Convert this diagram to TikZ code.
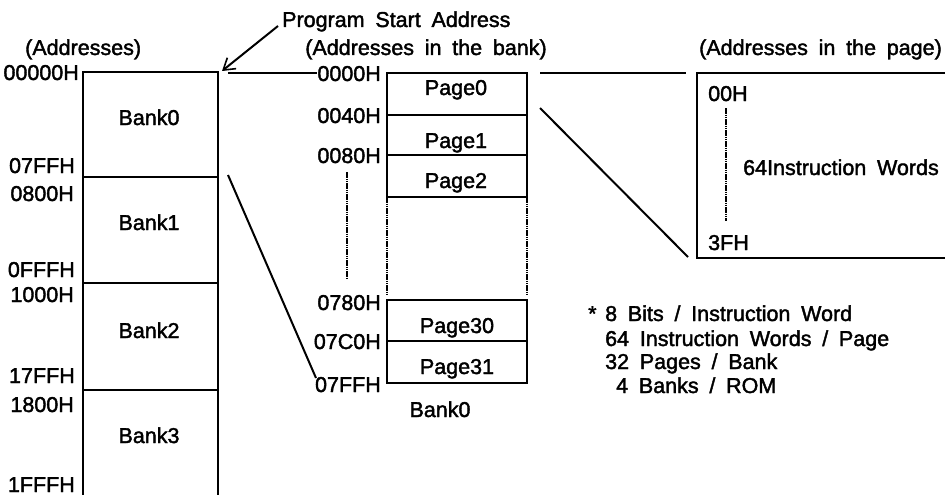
\documentclass[tikz,border=0pt]{standalone}
\usepackage{fontspec}
\setmainfont{Liberation Sans}
\newfontfamily\scanfont{Liberation Sans}[FakeBold=1.8]
\newcommand\scanstyle{\scanfont\fontsize{21.5}{26}\selectfont\spaceskip=0.5em\relax}
\usetikzlibrary{arrows.meta}
\begin{document}
\begin{tikzpicture}[x=1pt,y=-1pt,
  lbl/.style={inner sep=0pt, font=\scanstyle},
  lblE/.style={lbl, anchor=base east},
  lblW/.style={lbl, anchor=base west},
  lblC/.style={lbl, anchor=base},
  boxline/.style={line width=2pt},
  faint/.style={line width=1.5pt, dash pattern=on 1.6pt off 0.6pt},
  conn/.style={line width=2pt}]
\useasboundingbox (0,0) rectangle (945,495);

% ---------- left: whole ROM ----------
\coordinate (L0) at (83,72);  \coordinate (R0) at (218,72);
\coordinate (L1) at (83,177); \coordinate (R1) at (218,177);
\coordinate (L2) at (83,283); \coordinate (R2) at (218,283);
\coordinate (L3) at (83,390); \coordinate (R3) at (218,390);
\coordinate (L4) at (83,495); \coordinate (R4) at (218,495);
\draw[boxline] (L4) -- (L0) -- (R0) -- (R4);
\draw[boxline] (L1) -- (R1);
\draw[boxline] (L2) -- (R2);
\draw[boxline] (L3) -- (R3);

\node[lblW] (addr) at (25,55) {(Addresses)};
\node[lblE] (a00000) at (79,80) {00000H};
\node[lblE] (a07ff) at (75,173) {07FFH};
\node[lblE] (a0800) at (74,201) {0800H};
\node[lblE] (a0fff) at (75,277) {0FFFH};
\node[lblE] (a1000) at (74,302) {1000H};
\node[lblE] (a17ff) at (75,383) {17FFH};
\node[lblE] (a1800) at (74,412) {1800H};
\node[lblE] (a1fff) at (75,492) {1FFFH};
\node[lblC] (bank0) at (149,125) {Bank0};
\node[lblC] (bank1) at (149,230) {Bank1};
\node[lblC] (bank2) at (149,338) {Bank2};
\node[lblC] (bank3) at (149,443) {Bank3};

% ---------- middle: one bank ----------
\coordinate (m0l) at (387,73);  \coordinate (m0r) at (527,73);
\coordinate (m1l) at (387,115); \coordinate (m1r) at (527,115);
\coordinate (m2l) at (387,155); \coordinate (m2r) at (527,155);
\coordinate (m3l) at (387,197); \coordinate (m3r) at (527,197);
\coordinate (m4l) at (387,295); \coordinate (m4r) at (527,295);
\coordinate (n0l) at (387,300); \coordinate (n0r) at (527,300);
\coordinate (n1l) at (387,341); \coordinate (n1r) at (527,341);
\coordinate (n2l) at (387,383); \coordinate (n2r) at (527,383);
\draw[boxline] (m3l) -- (m0l) -- (m0r) -- (m3r);
\draw[boxline] (m1l) -- (m1r);
\draw[boxline] (m2l) -- (m2r);
\draw[boxline] (m3l) -- (m3r);
\draw[faint] (m3l) -- (m4l);
\draw[faint] (m3r) -- (m4r);
\draw[boxline] (n0l) rectangle (n2r);
\draw[boxline] (n1l) -- (n1r);
\coordinate (vd0) at (347,172); \coordinate (vd1) at (347,278);
\draw[faint] (vd0) -- (vd1);

\node[lblW] (psa) at (282,27) {Program Start Address};
\node[lblC] (addrbank) at (426,55) {(Addresses in the bank)};
\node[lblE] (b0000) at (381,81) {0000H};
\node[lblE] (b0040) at (381,123) {0040H};
\node[lblE] (b0080) at (381,163) {0080H};
\node[lblE] (b0780) at (381,310) {0780H};
\node[lblE] (b07c0) at (381,349) {07C0H};
\node[lblE] (b07ff) at (381,392) {07FFH};
\node[lblC] (page0) at (456,95) {Page0};
\node[lblC] (page1) at (456,148) {Page1};
\node[lblC] (page2) at (456,188) {Page2};
\node[lblC] (page30) at (457,333) {Page30};
\node[lblC] (page31) at (457,374) {Page31};
\node[lblC] (bank0m) at (440,417) {Bank0};

% ---------- right: one page ----------
\coordinate (p0l) at (697,73);  \coordinate (p0r) at (945,73);
\coordinate (p1l) at (697,258); \coordinate (p1r) at (945,258);
\draw[boxline] (p0r) -- (p0l) -- (p1l) -- (p1r);
\coordinate (pv0) at (726,108); \coordinate (pv1) at (726,221);
\draw[faint] (pv0) -- (pv1);
\node[lblW] (addrpage) at (699,55) {(Addresses in the page)};
\node[lblW] (p00) at (708,101) {00H};
\node[lblW] (p3f) at (708,250) {3FH};
\node[lblW] (p64) at (743,175) {64Instruction Words};

% ---------- notes ----------
\node[lblW] (star) at (588,321) {*};
\node[lblW] (note1) at (605,321) {8 Bits / Instruction Word};
\node[lblW] (note2) at (605,346) {64 Instruction Words / Page};
\node[lblW] (note3) at (605,369) {32 Pages / Bank};
\node[lblW] (note4) at (616,393) {4 Banks / ROM};

% ---------- connectors ----------
\coordinate (psaTail) at (278,26);
\coordinate (psaTip) at (222,71);
\draw[conn, -{Straight Barb[length=11pt,width=14pt,line width=1.6pt]}] (psaTail) -- (psaTip);
\coordinate (hA) at (228,73);
\draw[conn] (hA) -- (b0000.west |- hA);
\coordinate (dA) at (228,175);
\coordinate (dB) at (316,378);
\draw[conn] (dA) -- (dB);
\coordinate (hB) at (540,73); \coordinate (hC) at (686,73);
\draw[conn] (hB) -- (hC);
\coordinate (dC) at (540,108); \coordinate (dD) at (688,257);
\draw[conn] (dC) -- (dD);
\end{tikzpicture}
\end{document}
